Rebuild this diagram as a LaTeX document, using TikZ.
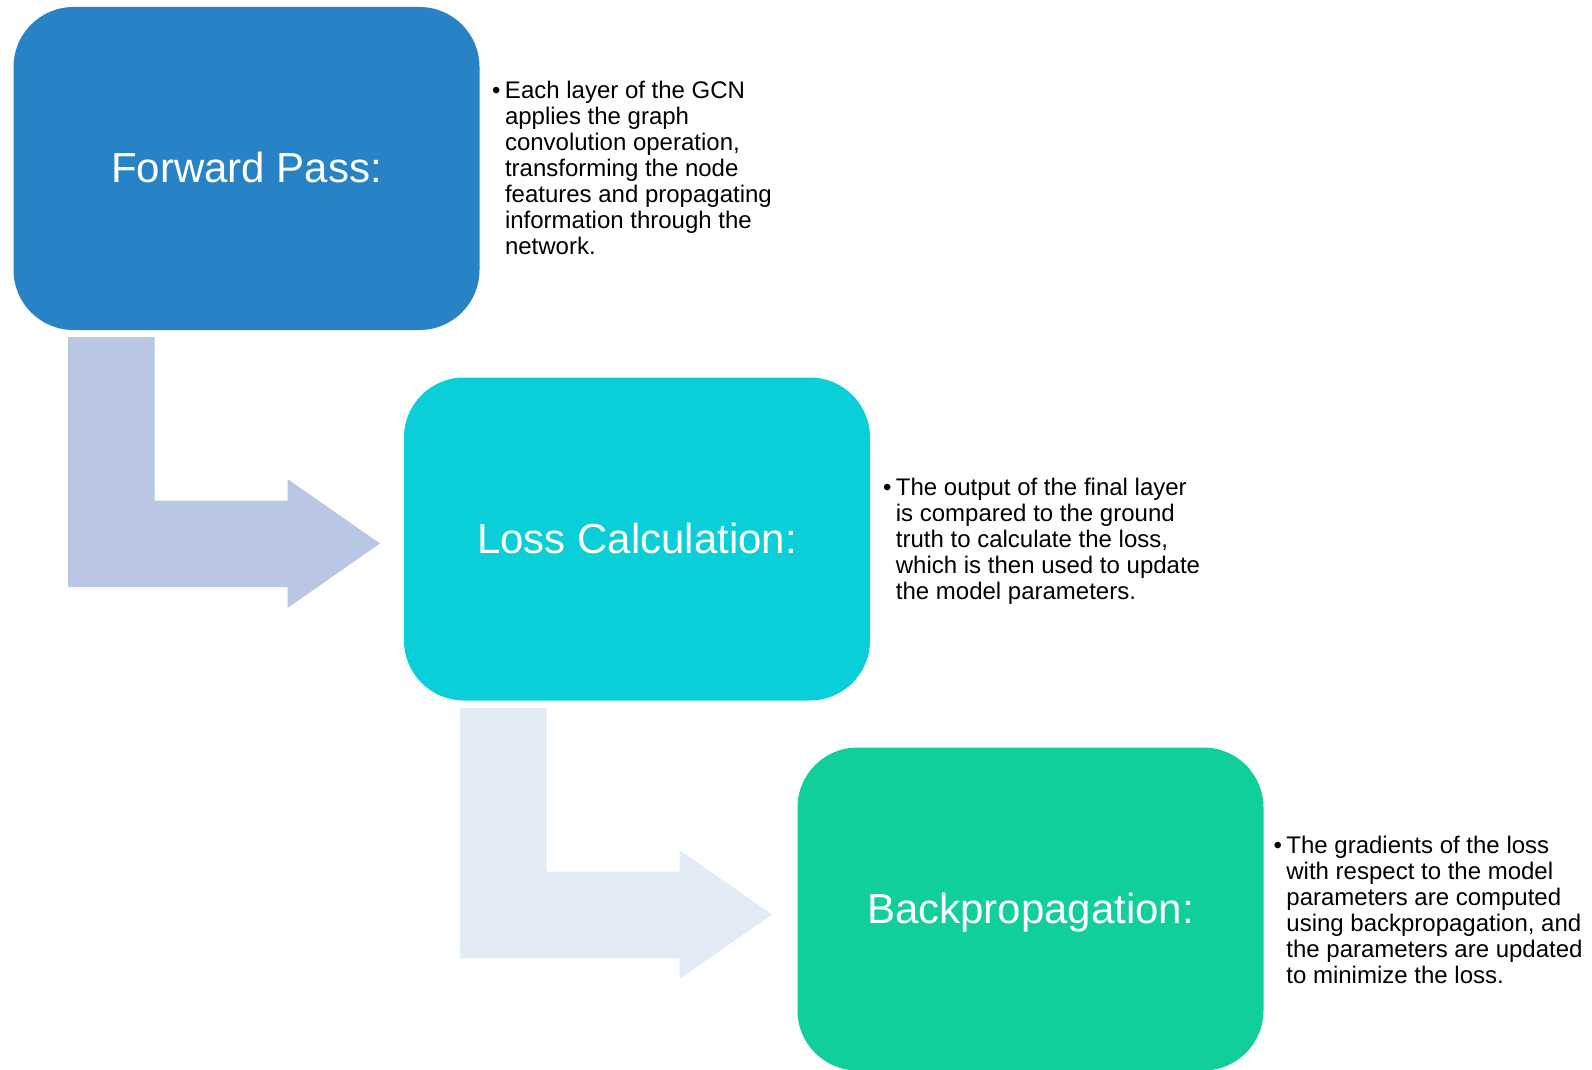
\documentclass[tikz,border=0pt]{standalone}
\usepackage{fontspec}
\setmainfont{Liberation Sans}
\definecolor{boxA}{RGB}{39,131,198}
\definecolor{boxB}{RGB}{10,207,216}
\definecolor{boxC}{RGB}{16,207,154}
\definecolor{arrA}{RGB}{185,199,228}
\definecolor{arrB}{RGB}{226,235,246}
\begin{document}
\begin{tikzpicture}[x=0.5pt,y=-0.5pt,
  stage/.style={rectangle, rounded corners=30pt, minimum width=233pt, minimum height=161.5pt,
    inner sep=0pt, text=white, text height=14pt, text depth=0pt,
    font=\fontsize{21}{25}\selectfont},
  desc/.style={anchor=west, align=left, inner sep=0pt, text=black,
    font=\fontsize{12}{13}\selectfont}]
\useasboundingbox (0,0) rectangle (1592,1070);
% bent arrows
\fill[arrA] (68,337) -- (154.5,337) -- (154.5,500.5) -- (287.5,500.5) -- (287.5,479)
  -- (380,543.5) -- (287.5,608) -- (287.5,587) -- (68,587) -- cycle;
\fill[arrB] (460,708) -- (546.5,708) -- (546.5,871.5) -- (679.5,871.5) -- (679.5,850)
  -- (772,914.5) -- (679.5,979) -- (679.5,958) -- (460,958) -- cycle;
% stages
\node[stage, fill=boxA] (fwd) at (246.5,168.5) {Forward Pass:};
\node[stage, fill=boxB] (loss) at (637,539) {Loss Calculation:};
\node[stage, fill=boxC] (back) at (1030.5,909) {Backpropagation:};
% descriptions
\node[desc] (fwdtxt) at (504.6,168) {\llap{•\hspace{2.2pt}}Each layer of the GCN\\applies the graph\\convolution operation,\\transforming the node\\features and propagating\\information through the\\network.};
\node[desc] (losstxt) at (895.5,541) {\llap{•\hspace{2.2pt}}The output of the final layer\\is compared to the ground\\truth to calculate the loss,\\which is then used to update\\the model parameters.};
\node[desc] (backtxt) at (1286,909.5) {\llap{•\hspace{2.2pt}}The gradients of the loss\\with respect to the model\\parameters are computed\\using backpropagation, and\\the parameters are updated\\to minimize the loss.};
\end{tikzpicture}
\end{document}
